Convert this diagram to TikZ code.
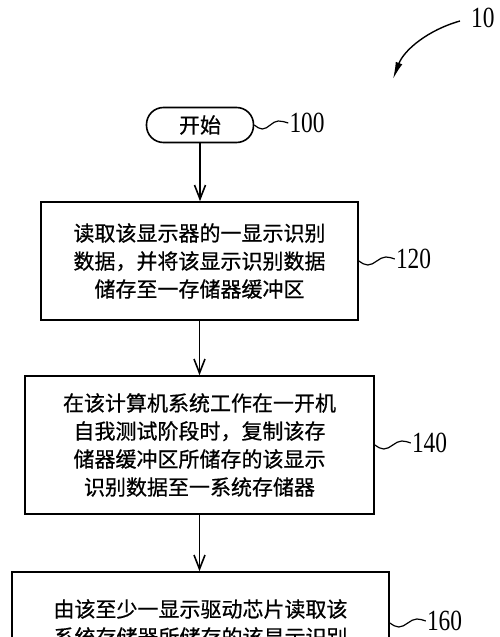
\documentclass[tikz,border=0pt]{standalone}
\usepackage{fontspec}
\usepackage{graphicx}
\setmainfont{Liberation Serif}
\newfontfamily\cjk{Noto Sans CJK SC}[FakeBold=0.7]
\usetikzlibrary{arrows.meta,calc}
\newcommand{\numlbl}[1]{\scalebox{1}[1.25]{#1}}
\begin{document}
\begin{tikzpicture}[x=1pt,y=-1pt,
  box/.style={draw, line width=1.6pt, inner sep=0pt, align=center,
    font=\cjk\fontsize{21}{28}\selectfont},
  num/.style={font=\fontsize{23.4}{24}\selectfont, anchor=west, inner sep=1pt},
  flow/.style={line width=1.6pt, -{Straight Barb[length=14pt,width=11pt,line width=1.6pt]}},
  squig/.style={line width=1.2pt},
  lead/.style={line width=1.4pt, -{Latex[length=17pt,width=7pt]}}]
\useasboundingbox (0,0) rectangle (500,637);
\clip (0,0) rectangle (500,637);

% nodes
\node[box, rounded corners=17pt, minimum width=107pt, minimum height=35pt] (start) at (200,125) {开始};
\node[box, minimum width=317pt, minimum height=118pt] (b120) at (199.5,261)
  {读取该显示器的一显示识别\\数据，并将该显示识别数据\\储存至一存储器缓冲区};
\node[box, minimum width=349pt, minimum height=138pt] (b140) at (199.5,445)
  {在该计算机系统工作在一开机\\自我测试阶段时，复制该存\\储器缓冲区所储存的该显示\\识别数据至一系统存储器};
\node[box, minimum width=377pt, minimum height=102pt] (b160) at (200.5,623)
  {由该至少一显示驱动芯片读取该\\系统存储器所储存的该显示识别};

% flow arrows
\draw[flow] (start.south) -- (start.south |- b120.north);
\draw[flow] (b120.south) -- (b120.south |- b140.north);
\draw[flow] (b140.south) -- (b140.south |- b160.north);

% reference labels
\coordinate (c100) at ($(start.east)+(34,-2)$);
\coordinate (c120) at ($(b120.east)+(36,-2)$);
\coordinate (c140) at ($(b140.east)+(36,-2)$);
\coordinate (c160) at ($(b160.east)+(36,-2)$);
\draw[squig] (start.east) sin ++(8,4) cos ++(8,-4) sin ++(8,-4) cos (c100);
\draw[squig] (b120.east) sin ++(9,4) cos ++(9,-4) sin ++(9,-4) cos (c120);
\draw[squig] (b140.east) sin ++(9,4) cos ++(9,-4) sin ++(9,-4) cos (c140);
\draw[squig] (b160.east) sin ++(9,4) cos ++(9,-4) sin ++(9,-4) cos (c160);
\node[num] (n100) at (c100) {\numlbl{100}};
\node[num] (n120) at (c120) {\numlbl{120}};
\node[num] (n140) at (c140) {\numlbl{140}};
\node[num] (n160) at (c160) {\numlbl{160}};

% figure reference
\node[num] (n10) at (470,18) {\numlbl{10}};
\coordinate (a10s) at (460,21);
\coordinate (a10e) at (393,79);
\draw[lead] (a10s) .. controls (428,30) and (404,50) .. (a10e);
\end{tikzpicture}
\end{document}
